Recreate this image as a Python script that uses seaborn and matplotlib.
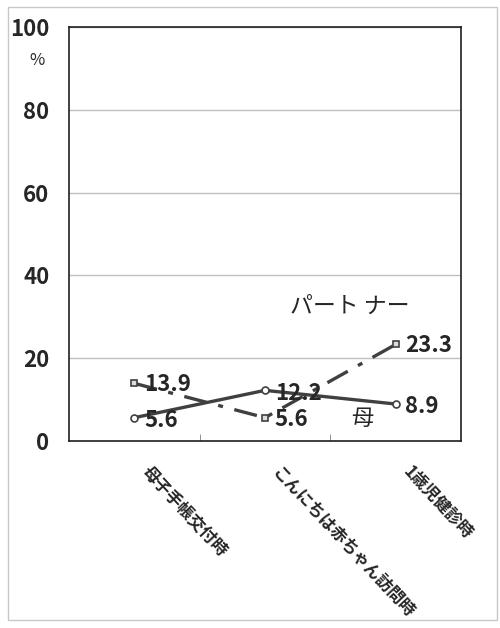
import seaborn as sns
import matplotlib.pyplot as plt
import pandas as pd
from matplotlib.patches import Rectangle

# データ
categories = ['母子手帳交付時', 'こんにちは赤ちゃん訪問時', '1歳児健診時']
mother = [5.6, 12.2, 8.9]
partner = [13.9, 5.6, 23.3]
yticks = [0, 20, 40, 60, 80, 100]

sns.set_style('white')
plt.rcParams['font.family'] = ['Noto Sans CJK JP', 'DejaVu Sans']

df_m = pd.DataFrame({'時期': categories, '割合': mother})
df_p = pd.DataFrame({'時期': categories, '割合': partner})

fig = plt.figure(figsize=(5, 6.28), dpi=100)
ax = fig.add_axes([0.138, 0.298, 0.784, 0.659])

col = '#404040'
sns.lineplot(data=df_m, x='時期', y='割合', ax=ax, color=col, linewidth=2.4,
             marker='o', markersize=5, markerfacecolor='white',
             markeredgecolor=col, markeredgewidth=1.2, sort=False)
sns.lineplot(data=df_p, x='時期', y='割合', ax=ax, color=col, linewidth=2.4,
             marker='s', markersize=5, markerfacecolor='#dddddd',
             markeredgecolor=col, markeredgewidth=1.2, sort=False,
             dashes=False)
ax.lines[-1].set_dashes((7, 3.5, 1.5, 3.5))

numfont = dict(fontsize=16, fontweight='bold')

# 値ラベル
for i, v in enumerate(mother):
    ax.annotate(f'{v}', (i, v), xytext=(7, -2), textcoords='offset points',
                va='center', ha='left', **numfont)
for i, v in enumerate(partner):
    ax.annotate(f'{v}', (i, v), xytext=(7, -1), textcoords='offset points',
                va='center', ha='left', **numfont)

ax.text(1.19, 32.5, 'パート ナー', fontsize=16.5, va='center', ha='left')
ax.text(1.66, 5.3, '母', fontsize=16, va='center', ha='left')

ax.set_xlim(-0.5, 2.5)
ax.set_ylim(0, 100)
ax.set_yticks(yticks)
ax.set_yticklabels([str(t) for t in yticks], **numfont)
ax.yaxis.grid(True, color='#c0c0c0', linewidth=1)
ax.set_axisbelow(True)
ax.set_xlabel('')
ax.set_ylabel('')

ax.set_xticks([0.5, 1.5], minor=True)
ax.set_xticks([0, 1, 2])
ax.set_xticklabels([])
for i, c in enumerate(categories):
    ax.annotate(c, (i, 0), xycoords=('data', 'axes fraction'),
                xytext=(12, -16), textcoords='offset points',
                rotation=-47, rotation_mode='anchor', ha='left', va='top',
                fontsize=12, fontweight='bold', annotation_clip=False)
ax.tick_params(axis='x', which='major', length=0)
ax.tick_params(axis='x', which='minor', direction='in', length=5,
               bottom=True, color='#808080')
ax.tick_params(axis='y', direction='in', length=5, color='#808080', pad=14)

for s in ax.spines.values():
    s.set_color('#202020')
    s.set_linewidth(1.2)

ax.text(-0.082, 0.92, '%', transform=ax.transAxes, fontsize=12,
        ha='center', va='center')

fig.patches.append(Rectangle((0.016, 0.012), 0.978, 0.977, transform=fig.transFigure,
                             fill=False, edgecolor='#c8c8c8', linewidth=1))

fig.savefig('out.png', dpi=100)
